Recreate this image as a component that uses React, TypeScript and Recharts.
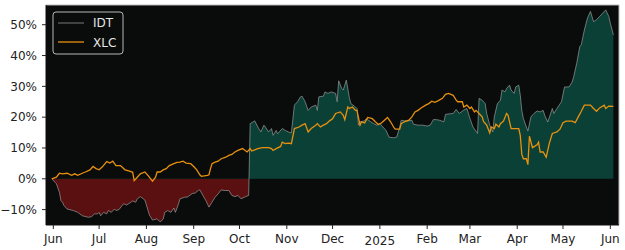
import React from 'react';
import { ComposedChart, Area, Line, XAxis, YAxis, CartesianGrid, ReferenceLine } from 'recharts';

// x positions are calendar days counted from 1 Jun 2024
const monthTicks = [0, 30, 61, 92, 122, 153, 183, 214, 245, 273, 304, 334, 365];
const monthLabels = ['Jun', 'Jul', 'Aug', 'Sep', 'Oct', 'Nov', 'Dec', '2025', 'Feb', 'Mar', 'Apr', 'May', 'Jun'];
const pctTicks = [-10, 0, 10, 20, 30, 40, 50];

const idtDays = [
  -1, 2, 4, 5, 6, 7, 9, 13, 16, 19, 23, 25, 27, 29, 30, 31, 33, 35, 36, 38, 40, 41, 43, 46, 48, 50, 52, 54, 55, 57,
  60, 61, 63, 65, 68, 70, 72, 73, 75, 77, 79, 80, 82, 83, 86, 88, 91, 93, 95, 96, 98, 100, 102, 104, 106, 108, 110,
  112, 115, 117, 119, 121, 123, 126, 128, 129, 132, 134, 136, 138, 139, 141, 143, 144, 146, 147, 150, 152, 154, 156,
  158, 160, 162, 163, 165, 167, 169, 172, 173, 174, 177, 178, 180, 182, 185, 186, 187, 189, 190, 192, 194, 195, 198,
  199, 200, 201, 204, 205, 208, 210, 212, 214, 216, 218, 220, 223, 225, 227, 228, 230, 233, 235, 236, 239, 242, 245,
  247, 249, 251, 253, 256, 257, 260, 262, 264, 266, 269, 271, 273, 275, 278, 279, 281, 283, 284, 286, 288, 289, 291,
  293, 294, 296, 297, 299, 300, 302, 303, 305, 306, 307, 308, 310, 311, 313, 315, 317, 319, 321, 322, 324, 327, 328,
  330, 333, 335, 338, 340, 341, 343, 345, 346, 348, 350, 352, 354, 356, 358, 359, 361, 362, 364, 365, 367,
];
const idtValues = [
  0, -1.6, -4.4, -7.1, -7.6, -8.7, -9.8, -10.3, -10.9, -12.0, -12.5, -12.3, -11.4, -11.4, -10.9, -12.0, -10.9, -11.4,
  -10.3, -10.9, -9.8, -10.3, -10.0, -8.1, -8.5, -7.9, -7.2, -7.6, -6.5, -5.8, -6.9, -8.5, -11.8, -13.4, -13.0, -14.0,
  -13.1, -10.9, -10.3, -10.9, -9.5, -10.9, -8.2, -6.5, -6.0, -5.9, -4.8, -4.6, -3.8, -3.6, -5.4, -7.1, -9.2, -7.6,
  -6.0, -4.9, -3.6, -3.8, -3.8, -5.4, -5.8, -5.4, -6.5, -5.8, -5.4, 17.9, 18.8, 16.8, 15.2, 17.4, 16.8, 15.2, 16.3,
  14.1, 15.7, 14.6, 16.3, 15.7, 15.2, 14.9, 23.9, 25.0, 26.6, 26.8, 25.0, 22.2, 23.3, 23.9, 22.2, 26.6, 26.8, 28.2,
  27.7, 28.2, 27.7, 25.0, 31.8, 29.3, 28.8, 32.0, 26.3, 24.4, 23.3, 22.8, 17.4, 18.5, 18.8, 19.5, 18.5, 17.9, 17.4,
  17.9, 16.8, 15.7, 13.5, 13.3, 13.5, 16.8, 19.0, 18.8, 18.8, 19.0, 17.7, 17.4, 17.4, 17.1, 17.4, 19.2, 19.2, 19.0,
  18.5, 20.9, 21.1, 21.2, 22.5, 21.2, 22.3, 22.8, 19.6, 16.8, 14.7, 26.1, 25.5, 24.4, 21.2, 17.4, 15.2, 20.1, 24.4,
  25.5, 28.8, 28.2, 29.3, 30.4, 28.8, 27.7, 29.8, 30.4, 27.1, 22.2, 19.6, 16.8, 15.5, 20.1, 21.2, 22.0, 21.7, 22.2,
  20.6, 18.4, 22.8, 21.2, 22.8, 25.0, 29.8, 29.8, 31.4, 33.1, 37.5, 42.9, 43.5, 48.3, 52.1, 54.3, 51.0, 51.6, 52.7,
  53.2, 54.3, 54.8, 52.7, 50.5, 46.7,
];

const xlcDays = [
  -1, 2, 4, 6, 9, 12, 14, 16, 19, 21, 24, 26, 28, 30, 32, 35, 37, 39, 41, 44, 47, 50, 52, 53, 55, 57, 60, 62, 65, 67,
  68, 70, 72, 74, 76, 79, 81, 83, 85, 87, 90, 92, 94, 96, 97, 101, 102, 103, 104, 106, 108, 110, 113, 115, 117, 119,
  121, 124, 127, 129, 130, 132, 134, 137, 139, 141, 143, 144, 146, 149, 150, 152, 154, 156, 158, 161, 163, 165, 167,
  169, 172, 173, 175, 177, 179, 181, 183, 185, 188, 190, 191, 193, 194, 196, 198, 199, 201, 202, 204, 206, 209, 211,
  213, 215, 217, 219, 221, 223, 224, 227, 228, 230, 233, 235, 237, 239, 241, 244, 246, 248, 250, 252, 255, 257, 259,
  262, 264, 265, 268, 269, 271, 273, 274, 276, 277, 279, 281, 282, 284, 286, 287, 289, 290, 292, 293, 295, 297, 298,
  300, 302, 305, 306, 307, 308, 310, 311, 312, 314, 317, 318, 319, 321, 323, 325, 327, 330, 332, 334, 336, 340, 342,
  344, 346, 348, 352, 354, 356, 358, 361, 362, 364, 367,
];
const xlcValues = [
  0, 0.5, 1.8, 1.6, 1.8, 1.1, 1.6, 1.1, 1.8, 2.2, 2.9, 4.0, 3.3, 2.9, 3.8, 5.6, 5.1, 5.7, 4.3, 4.3, 2.9, 2.5, 2.1,
  -0.6, 0.5, 1.6, 2.2, 1.1, -0.8, 0.5, 2.2, 2.2, 2.9, 3.3, 4.3, 4.9, 5.3, 5.4, 5.7, 5.1, 4.9, 4.0, 2.9, 1.3, 0.8, 1.1,
  1.3, 3.3, 4.9, 5.4, 5.7, 6.5, 7.0, 7.6, 7.9, 8.7, 9.2, 9.8, 8.7, 9.8, 9.0, 9.4, 9.8, 10.1, 10.1, 10.1, 9.8, 9.2,
  9.8, 10.5, 11.9, 11.4, 11.6, 11.4, 16.3, 16.8, 17.4, 17.9, 15.2, 16.3, 17.4, 17.9, 16.8, 17.4, 17.9, 18.8, 19.5,
  21.2, 21.7, 20.6, 19.2, 23.3, 22.8, 23.3, 22.2, 22.2, 17.4, 18.5, 18.1, 19.9, 19.5, 18.5, 17.6, 18.1, 19.0, 19.9,
  18.5, 16.8, 16.1, 16.1, 17.9, 18.5, 19.0, 20.1, 21.7, 22.2, 23.0, 23.9, 24.4, 25.2, 24.8, 25.3, 26.1, 27.4, 27.7,
  27.1, 25.5, 25.0, 25.0, 23.3, 23.9, 22.8, 23.3, 21.7, 22.2, 21.2, 20.1, 18.5, 17.4, 14.9, 16.8, 16.3, 17.7, 16.8,
  17.9, 18.7, 21.2, 20.6, 16.3, 16.3, 16.3, 14.1, 8.0, 6.5, 6.5, 4.6, 13.8, 10.1, 11.0, 11.9, 8.7, 8.7, 7.0, 11.4,
  14.7, 15.2, 16.1, 18.2, 18.7, 18.7, 18.2, 20.1, 21.9, 23.9, 23.9, 22.8, 21.9, 23.0, 23.9, 22.8, 23.6, 23.5,
];

type Row = { day: number; idt?: number; xlc?: number };
const rowMap = new Map<number, Row>();
idtDays.forEach((d, i) => {
  const r = rowMap.get(d) ?? { day: d };
  r.idt = idtValues[i];
  rowMap.set(d, r);
});
xlcDays.forEach((d, i) => {
  const r = rowMap.get(d) ?? { day: d };
  r.xlc = xlcValues[i];
  rowMap.set(d, r);
});
const rows = Array.from(rowMap.values()).sort((a, b) => a.day - b.day);

// where zero sits inside the IDT area's bounding box (green above, red below)
const idtMax = Math.max(...idtValues);
const idtMin = Math.min(...idtValues);
const zeroOffset = idtMax / (idtMax - idtMin);

const FONT = 'DejaVu Sans, sans-serif';
const X_DOMAIN: [number, number] = [-4.8, 370.7];
const Y_DOMAIN: [number, number] = [-15, 56.4];

const MonthTick = (props: any) => {
  const { x, y, payload } = props;
  const label = monthLabels[monthTicks.indexOf(payload.value)];
  return (
    <text x={x} y={y} dy={label === '2025' ? 14 : 12} textAnchor="middle" fill="#222" fontSize={12} fontFamily={FONT}>
      {label}
    </text>
  );
};

const fmtPct = (v: number) => (v < 0 ? `\u2212${Math.abs(v)}%` : `${v}%`);

const LegendBox = () => (
  <svg width={72} height={44} style={{ position: 'absolute', left: 52, top: 11 }}>
    <rect x={1} y={1} width={70} height={42} rx={3} fill="#0a0b0b" stroke="#b8b8b8" strokeWidth={1} />
    <line x1={6} x2={32} y1={12} y2={12} stroke="#999" strokeOpacity={0.65} strokeWidth={1.2} />
    <text x={41} y={16} fill="#e6e6e6" fontSize={12} fontFamily={FONT}>IDT</text>
    <line x1={6} x2={32} y1={31} y2={31} stroke="#e8910f" strokeWidth={1.3} />
    <text x={41} y={35.5} fill="#e6e6e6" fontSize={12} fontFamily={FONT}>XLC</text>
  </svg>
);

export default function App() {
  return (
    <div style={{ position: 'absolute', left: 0, top: 0, width: 625, height: 250, background: '#fff' }}>
      <ComposedChart width={625} height={250} data={rows} margin={{ top: 5, right: 6, bottom: 0, left: 0 }}>
        <defs>
          <linearGradient id="idtFill" x1="0" y1="0" x2="0" y2="1">
            <stop offset={0} stopColor="#0a4036" />
            <stop offset={zeroOffset} stopColor="#0a4036" />
            <stop offset={zeroOffset} stopColor="#5a1010" />
            <stop offset={1} stopColor="#5a1010" />
          </linearGradient>
        </defs>
        <CartesianGrid fill="#0a0b0b" horizontal={false} vertical={false} />
        <XAxis
          dataKey="day"
          type="number"
          domain={X_DOMAIN}
          ticks={monthTicks}
          allowDataOverflow={true}
          interval={0}
          height={25}
          tickSize={4}
          tickMargin={2}
          tick={<MonthTick />}
          tickLine={{ stroke: '#222' }}
          axisLine={{ stroke: '#111' }}
        />
        <YAxis
          type="number"
          domain={Y_DOMAIN}
          ticks={pctTicks}
          allowDataOverflow={true}
          interval={0}
          width={46}
          tickSize={4}
          tickMargin={5}
          tickFormatter={fmtPct}
          tick={{ fill: '#222', fontSize: 12, fontFamily: FONT }}
          tickLine={{ stroke: '#222' }}
          axisLine={{ stroke: '#111' }}
        />
        <ReferenceLine y={Y_DOMAIN[1]} stroke="#b8b8b8" strokeWidth={1} />
        <ReferenceLine x={X_DOMAIN[1]} stroke="#b8b8b8" strokeWidth={1} />
        <Area
          type="linear"
          dataKey="idt"
          baseValue={0}
          connectNulls={true}
          fill="url(#idtFill)"
          fillOpacity={1}
          stroke="#999"
          strokeOpacity={0.7}
          strokeWidth={1}
          dot={false}
          activeDot={false}
          isAnimationActive={false}
        />
        <Line
          type="linear"
          dataKey="xlc"
          connectNulls={true}
          stroke="#e8910f"
          strokeWidth={1.3}
          dot={false}
          activeDot={false}
          isAnimationActive={false}
        />
      </ComposedChart>
      <LegendBox />
    </div>
  );
}
